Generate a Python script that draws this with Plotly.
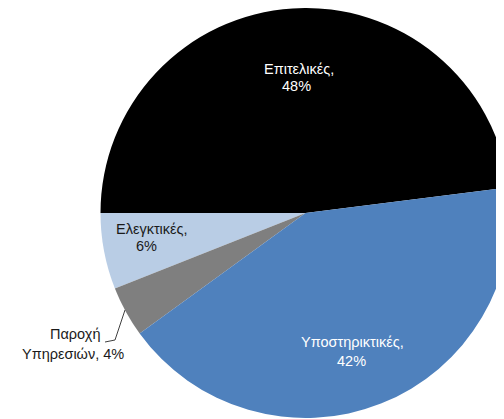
import plotly.graph_objects as go

# ---- data ----
categories = ["Επιτελικές", "Ελεγκτικές", "Παροχή Υπηρεσιών", "Υποστηρικτικές"]
shares = [48, 6, 4, 42]

# ---- styling ----
colors = ["#000000", "#b9cde5", "#7f7f7f", "#4f81bd"]
text_colors = ["#ffffff", "#1a1a1a", "#1a1a1a", "#ffffff"]
W, H = 520, 430
FONT = "Liberation Sans, Arial, sans-serif"
FS = 14.5

# label line centres (pixels, figure coords): (line1, line2)
label_pos = [
    ((291, 61), (288, 78)),
    ((143.5, 220.5), (138, 238)),
    ((67, 325.5), (64.5, 346)),
    ((344.5, 334), (343, 353)),
]
outside = [False, False, True, False]

# pie geometry in pixels
cx, cy, r = 297.5, 205, 205

fig = go.Figure(go.Pie(
    labels=categories,
    values=shares,
    sort=False,
    direction="counterclockwise",
    rotation=-90,
    marker=dict(colors=colors, line=dict(width=0)),
    textinfo="none",
    hoverinfo="label+percent",
    domain=dict(x=[(cx - r) / W, (cx + r) / W], y=[1 - (cy + r) / H, 1 - (cy - r) / H]),
    showlegend=False,
))

for name, val, (p1, p2), col, out in zip(categories, shares, label_pos, text_colors, outside):
    if out:
        words = name.split(" ")
        lines = [words[0], f"{' '.join(words[1:])}, {val}%"]
    else:
        lines = [f"{name},", f"{val}%"]
    for txt, (px, py) in zip(lines, (p1, p2)):
        fig.add_annotation(
            x=px / W, y=1 - py / H, xref="paper", yref="paper",
            text=txt, showarrow=False,
            font=dict(family=FONT, size=FS, color=col),
            align="center", xanchor="center", yanchor="middle",
        )

# leader line for the small outside label
pts = [(97, 334), (107, 332), (117, 302)]
path = "M " + " L ".join(f"{x / W},{1 - y / H}" for x, y in pts)
fig.add_shape(type="path", path=path, xref="paper", yref="paper",
              line=dict(color="#404040", width=1))

fig.update_layout(
    width=W, height=H,
    margin=dict(l=0, r=0, t=0, b=0),
    paper_bgcolor="#ffffff",
    plot_bgcolor="#ffffff",
)

fig.write_html("out.html")
